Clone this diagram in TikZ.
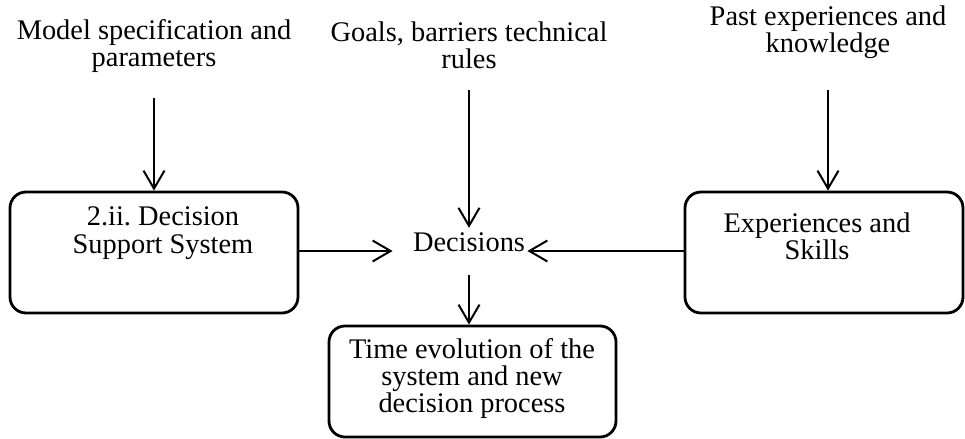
\documentclass[tikz,border=0pt]{standalone}
\usepackage{fontspec}
\setmainfont{Liberation Serif}
\usetikzlibrary{arrows.meta}
\tikzset{
  box/.style={draw, line width=1.4pt, rounded corners=8pt, inner sep=0pt},
  txt/.style={align=center, inner sep=0pt, font=\fontsize{14.2}{13.5}\selectfont},
  arr/.style={line width=1pt, -{Straight Barb[length=9pt,width=10.5pt,line width=1pt]}}
}
\begin{document}
\begin{tikzpicture}[x=0.5pt,y=-0.5pt]
\useasboundingbox (0,0) rectangle (965,439);
% boxes
\node[box, minimum width=144pt, minimum height=60.5pt] (lbox) at (154,252.5) {};
\node[box, minimum width=139pt, minimum height=60.5pt] (rbox) at (824,252.5) {};
\node[box, minimum width=143.5pt, minimum height=55.5pt] (bbox) at (472.5,381.5) {};
% texts
\node[txt] (t1) at (154,46) {Model specification and\\parameters};
\node[txt] (t2) at (469,45) {Goals, barriers technical\\rules};
\node[txt] (t3) at (828,32) {Past experiences and\\knowledge};
\node[txt, font=\fontsize{14.2}{14}\selectfont] (lt) at (163,233) {2.ii.\ Decision\\Support System};
\node[txt] (rt) at (817,236) {Experiences and\\Skills};
\node[txt] (bt) at (472,379) {Time evolution of the\\system and new\\decision process};
\node[txt, anchor=base] (dec) at (469,251) {Decisions};
% arrow start points
\coordinate (a1) at (154,98);
\coordinate (a2) at (469,90);
\coordinate (a3) at (828,90);
% connectors
\draw[arr] (a1) -- (lbox.north);
\draw[arr] (a2) -- ([yshift=2pt]dec.north);
\draw[arr] (a3) -- (rbox.north -| a3);
\draw[arr] (lbox.east |- dec.base) -- ([xshift=-10pt]dec.base west);
\draw[arr] (rbox.west |- dec.base) -- ([xshift=1pt]dec.base east);
\draw[arr] ([yshift=-11.5pt]dec.south) -- (bbox.north -| dec);
\end{tikzpicture}
\end{document}
